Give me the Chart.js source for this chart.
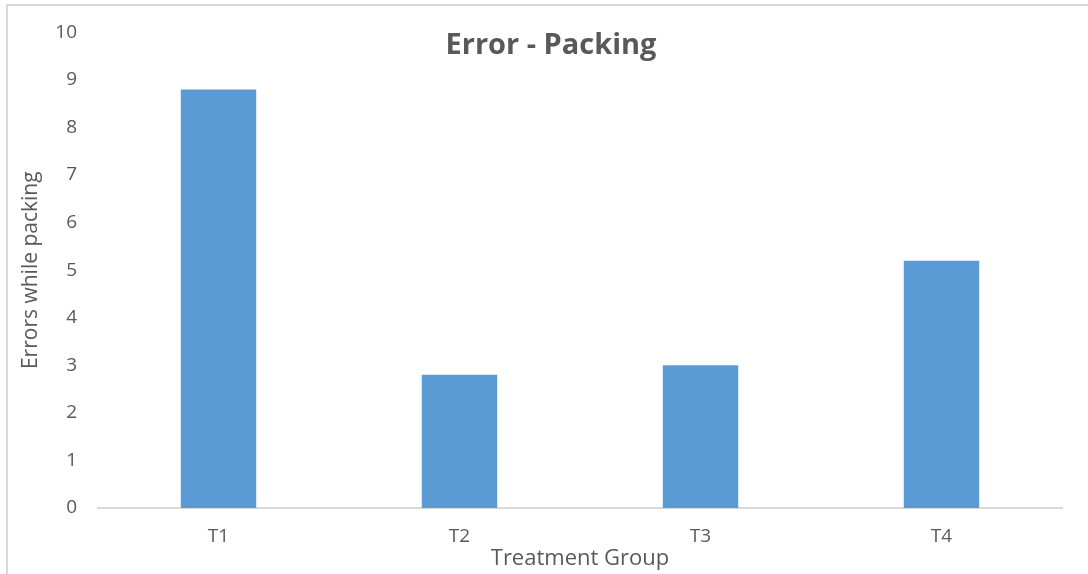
<!DOCTYPE html>
<html>
<head>
<meta charset="utf-8">
<script src="https://cdn.jsdelivr.net/npm/chart.js@4"></script>
<style>
  html, body { margin: 0; padding: 0; background: #fff; }
  #wrap { position: relative; width: 1088px; height: 574px; }
  #frame { position: absolute; left: 6px; top: 4px; right: 0; bottom: 0;
           border-top: 2px solid #d9d9d9; border-left: 2px solid #d9d9d9; pointer-events: none; }
</style>
</head>
<body>
<div id="wrap">
  <canvas id="chart" width="1088" height="574"></canvas>
  <div id="frame"></div>
</div>
<script>
// data
const groups = ['T1', 'T2', 'T3', 'T4'];
const errors = [8.8, 2.8, 3.0, 5.2];
const yTicks = [0, 1, 2, 3, 4, 5, 6, 7, 8, 9, 10];

const textColor = '#595959';
const fontFamily = '"Open Sans", "DejaVu Sans", sans-serif';

// title sits inside the plot area, so draw it ourselves
const titlePlugin = {
  id: 'insideTitle',
  afterDraw(chart) {
    const ctx = chart.ctx;
    ctx.save();
    ctx.font = 'bold 29px ' + fontFamily;
    ctx.fillStyle = textColor;
    ctx.textAlign = 'center';
    ctx.textBaseline = 'middle';
    ctx.fillText('Error - Packing', 551, 46);
    ctx.restore();
  }
};

new Chart(document.getElementById('chart'), {
  type: 'bar',
  data: {
    labels: groups,
    datasets: [{
      data: errors,
      backgroundColor: '#5b9bd5',
      borderWidth: 0,
      categoryPercentage: 1,
      barPercentage: 0.313
    }]
  },
  options: {
    responsive: false,
    animation: false,
    layout: { padding: { top: 28, right: 26, bottom: 0, left: 0 } },
    plugins: { legend: { display: false }, tooltip: { enabled: false } },
    scales: {
      x: {
        grid: { display: false, drawTicks: false },
        border: { display: true, color: '#d9d9d9', width: 2 },
        ticks: { color: textColor, font: { family: fontFamily, size: 19 }, padding: 17 },
        title: { display: true, text: 'Treatment Group', color: textColor,
                 font: { family: fontFamily, size: 22 }, padding: { top: 0, bottom: 2 } },
        afterFit(scale) { scale.height = 66; }
      },
      y: {
        min: 0,
        max: 10,
        afterBuildTicks(scale) { scale.ticks = yTicks.map(v => ({ value: v })); },
        grid: { display: false, drawTicks: false },
        border: { display: false },
        ticks: { color: textColor, font: { family: fontFamily, size: 19 }, padding: 21 },
        title: { display: true, text: 'Errors while packing', color: textColor,
                 font: { family: fontFamily, size: 21 }, padding: { top: 18, bottom: 0 } },
        afterFit(scale) { scale.width = 98; }
      }
    }
  },
  plugins: [titlePlugin]
});
</script>
</body>
</html>
